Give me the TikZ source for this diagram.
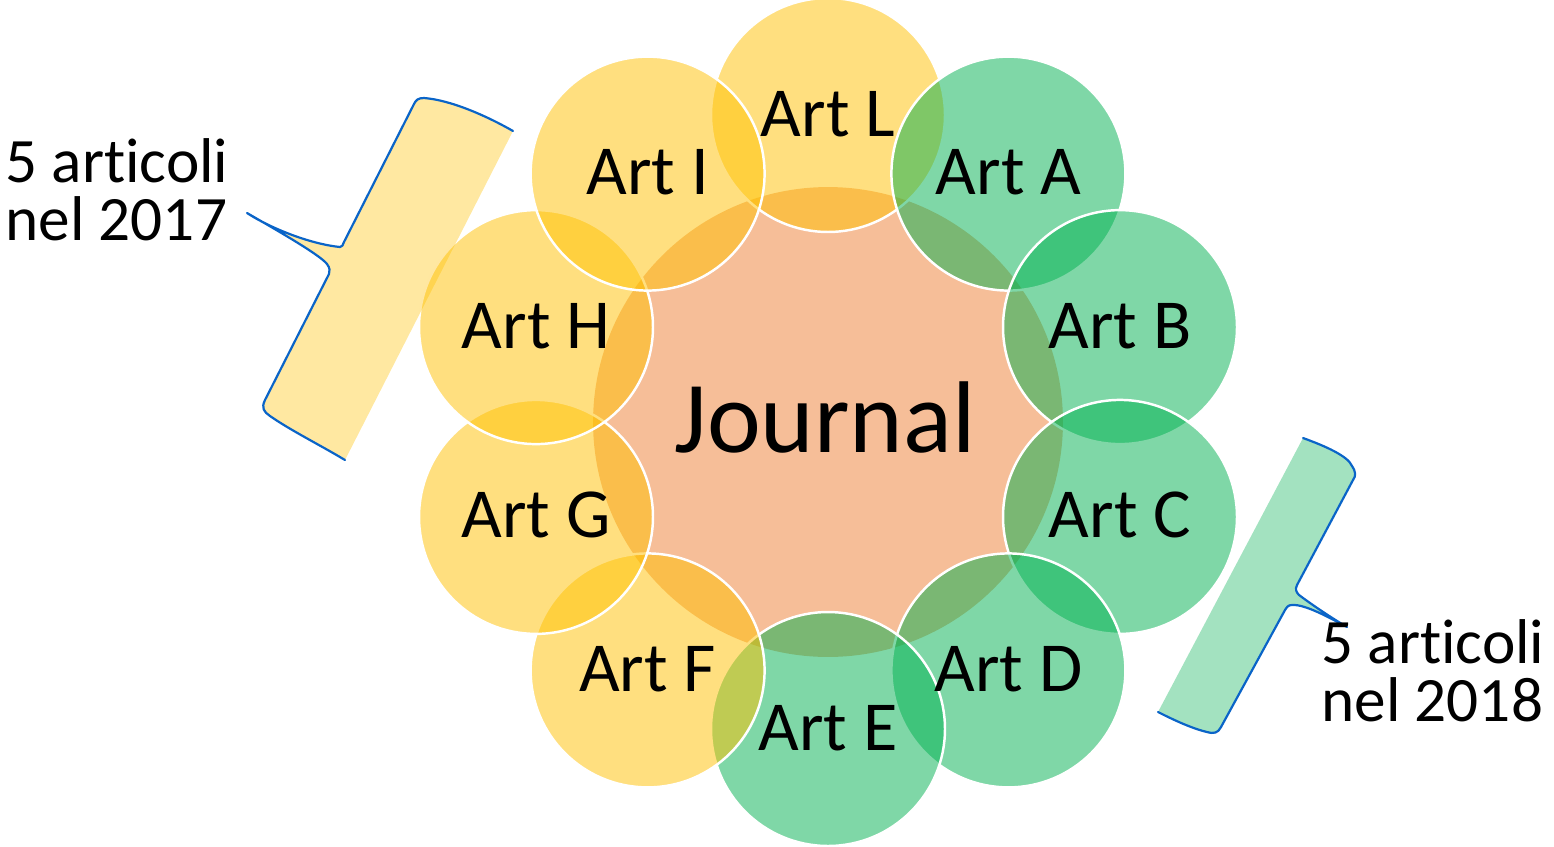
\documentclass[tikz,border=0pt]{standalone}
\usepackage{fontspec}
\setmainfont{Carlito}[Ligatures={NoCommon,NoContextual}]

\definecolor{artyellow}{HTML}{FFC000}
\definecolor{artgreen}{HTML}{00B050}
\definecolor{journalorange}{HTML}{ED7D31}
\definecolor{braceblue}{HTML}{0A64C8}

\tikzset{
  artdisc/.style={circle, minimum size=4.68cm, inner sep=0pt, draw=white, line width=1.4pt, fill opacity=0.5},
  journaldisc/.style={circle, minimum size=9.4cm, inner sep=0pt, fill=journalorange, fill opacity=0.5},
  arttext/.style={anchor=base, inner sep=0pt, font=\fontsize{40}{48}\selectfont},
  journaltext/.style={anchor=base, inner sep=0pt, font=\fontsize{58}{70}\selectfont},
  notetext/.style={anchor=base west, align=left, inner sep=0pt, font=\fontsize{36}{32.5}\selectfont},
  braceline/.style={draw=braceblue, line width=1.25pt, line cap=round, line join=round},
}

\begin{document}
\begin{tikzpicture}[x=0.02cm, y=-0.02cm]
            \useasboundingbox (0,0) rectangle (1554,846);

            % Central disc
            \node[journaldisc] (journal) at (828,422) {};

            % Ring of articles (top first, then clockwise)
            \node[artdisc, fill=artyellow] (artL) at (828,115) {}; % top
            \node[artdisc, fill=artgreen] (artA) at (1008.4,173.6) {};
            \node[artdisc, fill=artgreen] (artB) at (1120,327.1) {};
            \node[artdisc, fill=artgreen] (artC) at (1120,516.9) {};
            \node[artdisc, fill=artgreen] (artD) at (1008.4,670.4) {};
            \node[artdisc, fill=artgreen] (artE) at (828,729) {}; % bottom
            \node[artdisc, fill=artyellow] (artF) at (647.6,670.4) {};
            \node[artdisc, fill=artyellow] (artG) at (536,516.9) {};
            \node[artdisc, fill=artyellow] (artH) at (536,327.1) {};
            \node[artdisc, fill=artyellow] (artI) at (647.6,173.6) {};

            % Left brace (2017)
            \fill[artyellow, fill opacity=0.37] (513,131) .. controls (485,115) and (450,100) .. (424,98)
                .. controls (418,98) and (416,100) .. (414,104) -- (344,242)
                .. controls (343,245) and (342,247) .. (340,247) .. controls (310,244) and (270,228) .. (247,213)
                .. controls (280,232) and (320,255) .. (327,264) .. controls (330,268) and (330,271) .. (329,274)
                -- (265,400) .. controls (261,408) and (264,412) .. (270,416) .. controls (290,430) and (320,445) .. (345,460)
                -- cycle;
            \draw[braceline] (513,131) .. controls (485,115) and (450,100) .. (424,98)
                .. controls (418,98) and (416,100) .. (414,104) -- (344,242)
                .. controls (343,245) and (342,247) .. (340,247) .. controls (310,244) and (270,228) .. (247,213)
                .. controls (280,232) and (320,255) .. (327,264) .. controls (330,268) and (330,271) .. (329,274)
                -- (265,400) .. controls (261,408) and (264,412) .. (270,416) .. controls (290,430) and (320,445) .. (345,460);

            % Right brace (2018)
            \fill[artgreen, fill opacity=0.36] (1303,438) .. controls (1325,446) and (1348,456) .. (1352,466)
                .. controls (1356,472) and (1356,476) .. (1353,480) -- (1297,585)
                .. controls (1295,589) and (1296,592) .. (1299,595) .. controls (1315,607) and (1335,620) .. (1347,627)
                .. controls (1330,618) and (1305,604) .. (1292,605) .. controls (1288,605) and (1287,607) .. (1285,610)
                -- (1221,727) .. controls (1218,733) and (1214,734) .. (1207,732) .. controls (1190,728) and (1170,718) .. (1158,712)
                -- cycle;
            \draw[braceline] (1303,438) .. controls (1325,446) and (1348,456) .. (1352,466)
                .. controls (1356,472) and (1356,476) .. (1353,480) -- (1297,585)
                .. controls (1295,589) and (1296,592) .. (1299,595) .. controls (1315,607) and (1335,620) .. (1347,627)
                .. controls (1330,618) and (1305,604) .. (1292,605) .. controls (1288,605) and (1287,607) .. (1285,610)
                -- (1221,727) .. controls (1218,733) and (1214,734) .. (1207,732) .. controls (1190,728) and (1170,718) .. (1158,712);

            % Labels
            \node[journaltext] (tJournal) at (825,452) {Journal};
            \node[arttext] (tL) at ([yshift=-21*0.02cm]artL.center) {Art L};
            \node[arttext] (tA) at ([yshift=-21*0.02cm]artA.center) {Art A};
            \node[arttext] (tB) at ([yshift=-21*0.02cm]artB.center) {Art B};
            \node[arttext] (tC) at ([yshift=-21*0.02cm]artC.center) {Art C};
            \node[arttext] (tD) at ([yshift=-21*0.02cm]artD.center) {Art D};
            \node[arttext] (tE) at ([yshift=-21*0.02cm]artE.center) {Art E};
            \node[arttext] (tF) at ([yshift=-21*0.02cm]artF.center) {Art F};
            \node[arttext] (tG) at ([yshift=-21*0.02cm]artG.center) {Art G};
            \node[arttext] (tH) at ([yshift=-21*0.02cm]artH.center) {Art H};
            \node[arttext] (tI) at ([yshift=-21*0.02cm]artI.center) {Art I};

            \node[notetext] (note2017) at (5,240) {5 articoli\\nel 2017};
            \node[notetext] (note2018) at (1321,721) {5 articoli\\nel 2018};
\end{tikzpicture}
\end{document}
